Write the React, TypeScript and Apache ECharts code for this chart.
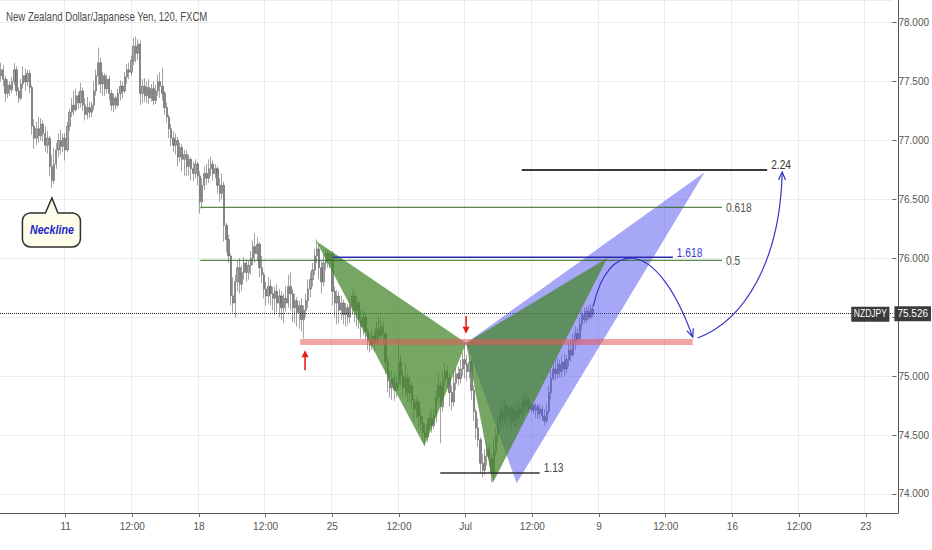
import React, { useEffect, useRef } from "react";
import * as echarts from "echarts";

const TITLE = "New Zealand Dollar/Japanese Yen, 120, FXCM";
const SYMBOL = "NZDJPY";
const LAST_PRICE = 75.526;

// 2h bars; slots on the time axis including the empty future space
const SLOT_COUNT = 404;

const tickIndex = [29, 59, 89, 119, 149, 179, 209, 239, 269, 299, 329, 359, 389];
const tickText = ["11", "12:00", "18", "12:00", "25", "12:00", "Jul", "12:00", "9", "12:00", "16", "12:00", "23"];

const PRICE_MIN = 74;
const PRICE_MAX = 78.1927;
const PRICE_STEP = 0.5;

// OHLC rows: [open, close, low, high]
const weekJun6 = [
  [77.55, 77.6, 77.5, 77.66], [77.6, 77.52, 77.46, 77.64], [77.52, 77.4, 77.33, 77.55], [77.4, 77.47, 77.36, 77.52],
  [77.47, 77.43, 77.38, 77.5], [77.43, 77.5, 77.4, 77.54], [77.5, 77.6, 77.47, 77.66], [77.6, 77.42, 77.38, 77.63],
  [77.42, 77.36, 77.32, 77.45], [77.36, 77.48, 77.34, 77.52], [77.48, 77.55, 77.44, 77.63], [77.55, 77.5, 77.42, 77.61],
  [77.5, 77.57, 77.46, 77.6], [77.57, 77.45, 77.4, 77.6], [77.45, 77.12, 77.05, 77.47], [77.12, 77.02, 76.93, 77.18],
  [77.02, 77.1, 76.96, 77.16], [77.1, 77.04, 76.98, 77.2], [77.04, 77.14, 77.0, 77.19], [77.14, 77.06, 76.99, 77.17],
  [77.06, 76.96, 76.9, 77.12], [76.96, 77.02, 76.89, 77.08], [77.02, 76.78, 76.7, 77.04], [76.78, 76.66, 76.6, 76.88],
  [76.66, 76.8, 76.63, 76.94], [76.8, 76.92, 76.76, 76.98], [76.92, 77.0, 76.86, 77.06], [77.0, 76.95, 76.88, 77.09],
  [76.95, 77.02, 76.9, 77.06],
];
const weekJun11 = [
  [77.02, 76.92, 76.83, 77.06], [76.92, 77.12, 76.9, 77.16], [77.12, 77.24, 77.08, 77.27], [77.24, 77.3, 77.2, 77.36],
  [77.3, 77.26, 77.21, 77.42], [77.26, 77.38, 77.24, 77.44], [77.38, 77.32, 77.27, 77.41], [77.32, 77.42, 77.28, 77.49],
  [77.42, 77.3, 77.25, 77.45], [77.3, 77.22, 77.17, 77.36], [77.22, 77.28, 77.18, 77.37], [77.28, 77.24, 77.19, 77.33],
  [77.24, 77.3, 77.2, 77.33], [77.3, 77.42, 77.26, 77.5], [77.42, 77.55, 77.38, 77.6], [77.55, 77.66, 77.47, 77.79],
  [77.66, 77.48, 77.4, 77.7], [77.48, 77.55, 77.38, 77.58], [77.55, 77.44, 77.38, 77.57], [77.44, 77.52, 77.4, 77.56],
  [77.52, 77.4, 77.34, 77.55], [77.4, 77.3, 77.25, 77.43], [77.3, 77.36, 77.24, 77.4], [77.36, 77.3, 77.26, 77.38],
  [77.3, 77.4, 77.28, 77.44], [77.4, 77.46, 77.34, 77.51], [77.46, 77.42, 77.36, 77.5], [77.42, 77.54, 77.4, 77.58],
  [77.54, 77.6, 77.48, 77.65], [77.6, 77.58, 77.52, 77.66], [77.58, 77.68, 77.55, 77.72], [77.68, 77.8, 77.64, 77.87],
  [77.8, 77.74, 77.66, 77.88], [77.74, 77.82, 77.68, 77.86], [77.82, 77.4, 77.3, 77.85], [77.4, 77.46, 77.32, 77.52],
  [77.46, 77.38, 77.33, 77.53], [77.38, 77.45, 77.32, 77.5], [77.45, 77.36, 77.31, 77.52], [77.36, 77.44, 77.33, 77.48],
  [77.44, 77.34, 77.3, 77.5], [77.34, 77.42, 77.31, 77.47], [77.42, 77.5, 77.38, 77.56], [77.5, 77.46, 77.36, 77.58],
  [77.46, 77.4, 77.34, 77.62], [77.4, 77.28, 77.22, 77.42], [77.28, 77.2, 77.15, 77.32], [77.2, 77.1, 77.02, 77.22],
  [77.1, 77.02, 76.95, 77.14], [77.02, 76.96, 76.9, 77.08], [76.96, 77.0, 76.88, 77.06], [77.0, 76.86, 76.78, 77.03],
  [76.86, 76.94, 76.82, 76.98], [76.94, 76.84, 76.74, 76.97], [76.84, 76.88, 76.7, 76.92], [76.88, 76.78, 76.7, 76.92],
  [76.78, 76.84, 76.7, 76.88], [76.84, 76.76, 76.66, 76.86], [76.76, 76.72, 76.66, 76.82], [76.72, 76.8, 76.68, 76.84],
];
const weekJun18 = [
  [76.8, 76.7, 76.62, 76.82], [76.7, 76.48, 76.38, 76.74], [76.48, 76.62, 76.42, 76.68], [76.62, 76.72, 76.58, 76.78],
  [76.72, 76.68, 76.62, 76.8], [76.68, 76.76, 76.64, 76.84], [76.76, 76.8, 76.7, 76.86], [76.8, 76.72, 76.66, 76.83],
  [76.72, 76.76, 76.68, 76.8], [76.76, 76.62, 76.55, 76.78], [76.62, 76.55, 76.48, 76.68], [76.55, 76.62, 76.5, 76.72],
  [76.62, 76.28, 76.14, 76.65], [76.28, 76.16, 76.05, 76.3], [76.16, 76.02, 75.96, 76.2], [76.02, 75.68, 75.6, 76.04],
  [75.68, 75.62, 75.54, 75.84], [75.62, 75.8, 75.5, 75.86], [75.8, 75.92, 75.72, 75.98], [75.92, 75.78, 75.7, 76.0],
  [75.78, 75.88, 75.72, 75.94], [75.88, 75.96, 75.82, 76.01], [75.96, 75.88, 75.8, 75.99], [75.88, 75.94, 75.82, 75.98],
  [75.94, 76.0, 75.86, 76.06], [76.0, 76.1, 75.94, 76.15], [76.1, 76.04, 75.96, 76.21], [76.04, 76.12, 75.98, 76.18],
  [76.12, 75.92, 75.84, 76.14], [75.92, 75.86, 75.79, 76.02], [75.86, 75.74, 75.66, 75.88], [75.74, 75.68, 75.6, 75.8],
  [75.68, 75.76, 75.62, 75.84], [75.76, 75.7, 75.6, 75.82], [75.7, 75.66, 75.56, 75.76], [75.66, 75.72, 75.52, 75.76],
  [75.72, 75.62, 75.54, 75.78], [75.62, 75.68, 75.5, 75.74], [75.68, 75.58, 75.48, 75.72], [75.58, 75.66, 75.45, 75.7],
  [75.66, 75.62, 75.55, 75.76], [75.62, 75.76, 75.58, 75.86], [75.76, 75.7, 75.56, 75.88], [75.7, 75.58, 75.46, 75.74],
  [75.58, 75.64, 75.45, 75.7], [75.64, 75.54, 75.42, 75.67], [75.54, 75.6, 75.4, 75.64], [75.6, 75.48, 75.38, 75.66],
  [75.48, 75.56, 75.32, 75.6], [75.56, 75.64, 75.5, 75.7], [75.64, 75.74, 75.58, 75.82], [75.74, 75.82, 75.67, 75.88],
  [75.82, 75.9, 75.76, 75.96], [75.9, 76.02, 75.86, 76.08], [76.02, 76.08, 75.96, 76.16], [76.08, 75.92, 75.82, 76.12],
  [75.92, 75.8, 75.7, 75.98], [75.8, 75.96, 75.76, 76.04], [75.96, 76.04, 75.9, 76.08], [76.04, 75.98, 75.92, 76.07],
];
const weekJun25 = [
  [75.98, 76.04, 75.92, 76.07], [76.04, 75.72, 75.6, 76.06], [75.72, 75.62, 75.5, 75.76], [75.62, 75.68, 75.44, 75.73],
  [75.68, 75.56, 75.45, 75.72], [75.56, 75.62, 75.48, 75.68], [75.62, 75.52, 75.44, 75.65], [75.52, 75.58, 75.42, 75.62],
  [75.58, 75.5, 75.43, 75.61], [75.5, 75.6, 75.45, 75.66], [75.6, 75.68, 75.52, 75.73], [75.68, 75.56, 75.46, 75.72],
  [75.56, 75.62, 75.42, 75.68], [75.62, 75.48, 75.4, 75.64], [75.48, 75.42, 75.32, 75.56], [75.42, 75.5, 75.35, 75.55],
  [75.5, 75.38, 75.31, 75.53], [75.38, 75.3, 75.22, 75.4], [75.3, 75.26, 75.2, 75.36], [75.26, 75.34, 75.22, 75.39],
  [75.34, 75.28, 75.21, 75.38], [75.28, 75.4, 75.26, 75.46], [75.4, 75.34, 75.28, 75.5], [75.34, 75.42, 75.3, 75.48],
  [75.42, 75.36, 75.28, 75.46], [75.36, 75.12, 75.02, 75.38], [75.12, 74.96, 74.86, 75.16], [74.96, 74.9, 74.82, 75.04],
  [74.9, 74.98, 74.8, 75.05], [74.98, 74.88, 74.79, 75.02], [74.88, 74.94, 74.82, 75.0], [74.94, 75.12, 74.9, 75.31],
  [75.12, 75.0, 74.92, 75.18], [75.0, 74.9, 74.84, 75.06], [74.9, 74.98, 74.82, 75.11], [74.98, 74.86, 74.78, 75.02],
  [74.86, 74.92, 74.77, 75.0], [74.92, 74.8, 74.74, 74.96], [74.8, 74.72, 74.62, 74.84], [74.72, 74.78, 74.64, 74.82],
  [74.78, 74.66, 74.56, 74.8], [74.66, 74.6, 74.54, 74.72], [74.6, 74.52, 74.45, 74.66], [74.52, 74.48, 74.41, 74.6],
  [74.48, 74.58, 74.44, 74.64], [74.58, 74.64, 74.54, 74.7], [74.64, 74.58, 74.52, 74.72], [74.58, 74.66, 74.55, 74.71],
  [74.66, 74.82, 74.6, 74.88], [74.82, 74.92, 74.76, 75.02], [74.92, 74.74, 74.43, 74.96], [74.74, 74.96, 74.7, 75.04],
  [74.96, 75.04, 74.92, 75.11], [75.04, 74.98, 74.9, 75.08], [74.98, 74.86, 74.74, 75.02], [74.86, 74.78, 74.71, 74.92],
  [74.78, 74.94, 74.74, 75.05], [74.94, 75.02, 74.88, 75.08], [75.02, 74.98, 74.92, 75.08], [74.98, 75.06, 74.94, 75.14],
];
const weekJul2 = [
  [75.06, 75.14, 75.0, 75.2], [75.14, 75.1, 74.98, 75.28], [75.1, 75.04, 74.96, 75.18], [75.04, 75.12, 74.98, 75.16],
  [75.12, 74.88, 74.8, 75.14], [74.88, 74.7, 74.62, 74.92], [74.7, 74.56, 74.46, 74.72], [74.56, 74.46, 74.4, 74.64],
  [74.46, 74.26, 74.18, 74.48], [74.26, 74.2, 74.14, 74.34], [74.2, 74.32, 74.16, 74.38], [74.32, 74.38, 74.24, 74.44],
  [74.38, 74.3, 74.23, 74.42], [74.3, 74.18, 74.1, 74.34], [74.18, 74.36, 74.12, 74.48], [74.36, 74.5, 74.32, 74.56],
  [74.5, 74.6, 74.44, 74.66], [74.6, 74.7, 74.54, 74.76], [74.7, 74.64, 74.56, 74.82], [74.64, 74.74, 74.58, 74.8],
  [74.74, 74.66, 74.56, 74.77], [74.66, 74.72, 74.55, 74.76], [74.72, 74.62, 74.54, 74.75], [74.62, 74.7, 74.58, 74.74],
  [74.7, 74.64, 74.56, 74.76], [74.64, 74.72, 74.58, 74.79], [74.72, 74.68, 74.6, 74.78], [74.68, 74.78, 74.64, 74.84],
  [74.78, 74.74, 74.69, 74.86], [74.74, 74.8, 74.7, 74.85], [74.8, 74.72, 74.69, 74.82], [74.72, 74.75, 74.69, 74.77],
  [74.75, 74.71, 74.68, 74.77], [74.71, 74.74, 74.65, 74.77], [74.74, 74.68, 74.64, 74.76], [74.68, 74.72, 74.64, 74.76],
  [74.72, 74.66, 74.62, 74.75], [74.66, 74.62, 74.58, 74.72], [74.62, 74.7, 74.6, 74.77], [74.7, 74.86, 74.68, 74.92],
  [74.86, 74.98, 74.8, 75.05], [74.98, 75.06, 74.96, 75.12], [75.06, 75.02, 74.97, 75.14], [75.02, 75.1, 74.98, 75.16],
  [75.1, 75.04, 74.99, 75.14], [75.04, 75.12, 74.99, 75.18], [75.12, 75.06, 75.0, 75.19], [75.06, 75.14, 75.02, 75.18],
  [75.14, 75.22, 75.08, 75.28], [75.22, 75.18, 75.12, 75.31], [75.18, 75.3, 75.16, 75.36], [75.3, 75.36, 75.22, 75.42],
  [75.36, 75.32, 75.26, 75.41], [75.32, 75.44, 75.3, 75.5], [75.44, 75.52, 75.39, 75.56], [75.52, 75.48, 75.45, 75.58],
  [75.48, 75.55, 75.45, 75.59], [75.55, 75.5, 75.48, 75.6], [75.5, 75.57, 75.48, 75.61], [75.57, 75.526, 75.5, 75.6],
];

// Harmonic pattern vertices: [bar index, price]
const greenXAB = [[142.6, 76.147], [191.6, 74.407], [210.5, 75.28]];
const greenBCD = [[210.5, 75.28], [222.6, 74.092], [274.4, 76.003]];
const blueXAD = [[210.5, 75.28], [233.4, 74.09], [318.5, 76.73]];

// Level lines
const levelNames = ["2.24", "0.618", "0.5", "1.618", "1.13"];
const levelPrices = [76.75, 76.433, 75.983, 76.009, 74.177];
const levelFrom = [235.7, 90.2, 90.2, 150.2, 198.8];
const levelTo = [346.8, 326.4, 326.4, 304.1, 243.8];

// Support zone
const supportPrice = 75.29;
const supportFrom = 135.4;
const supportTo = 313.1;

// Red arrows: [bar, price tail, price tip]
const upArrow = [137.6, 75.05, 75.22];
const downArrow = [210.5, 75.51, 75.36];

// Projection curves: start, control 1, control 2, end ([bar, price])
const projDown = [[268.1, 75.594], [274.8, 76.155], [296.4, 76.198], [313.1, 75.332]];
const projUp = [[315.3, 75.323], [336.9, 75.476], [352.7, 75.985], [353.6, 76.733]];

// Neckline callout anchor
const necklineText = "Neckline";
const necklinePoint = [23, 76.512];

const FONT = '"Liberation Sans", Arial, sans-serif';

function headPoints(tip: number[], from: number[], len: number, half: number) {
  const dx = tip[0] - from[0];
  const dy = tip[1] - from[1];
  const L = Math.hypot(dx, dy) || 1;
  const ux = dx / L;
  const uy = dy / L;
  const bx = tip[0] - ux * len;
  const by = tip[1] - uy * len;
  return [[bx - uy * half, by + ux * half], tip, [bx + uy * half, by - ux * half]];
}

function txt(text: string, x: number, y: number, fill: string, font: string, align: string, vAlign: string, scaleX = 1, extra: any = {}) {
  return {
    type: "text",
    x, y, scaleX,
    style: {
      text, x: 0, y: 0, fill, font,
      align, verticalAlign: vAlign, textAlign: align, textVerticalAlign: vAlign,
      ...extra,
    },
  };
}

function renderAnnotations(params: any, api: any) {
  const c = (d: number[]) => api.coord(d);
  const cs = params.coordSys;
  const ch: any[] = [];
  const poly = (pts: number[][], fill: string) =>
    ch.push({ type: "polygon", shape: { points: pts.map(c) }, style: { fill } });
  poly(blueXAD, "rgba(80,80,240,0.5)");
  poly(greenXAB, "rgba(70,135,45,0.74)");
  poly(greenBCD, "rgba(70,135,45,0.74)");

  const s0 = c([supportFrom, supportPrice]);
  const s1 = c([supportTo, supportPrice]);
  ch.push({ type: "line", shape: { x1: s0[0], y1: s0[1], x2: s1[0], y2: s1[1] }, style: { stroke: "rgba(230,90,90,0.55)", lineWidth: 6 } });

  const levelStroke = ["#3a3a3a", "#2f6a1f", "#2f6a1f", "#2d2db0", "#333333"];
  const levelWidth = [2, 1, 1, 1.5, 1.5];
  const labelColor = ["#333", "#555", "#555", "#3a3ad0", "#444"];
  levelNames.forEach((name, k) => {
    const a = c([levelFrom[k], levelPrices[k]]);
    const b = c([levelTo[k], levelPrices[k]]);
    ch.push({ type: "line", shape: { x1: a[0], y1: a[1], x2: b[0], y2: b[1] }, style: { stroke: levelStroke[k], lineWidth: levelWidth[k] } });
    const middle = name === "0.618" || name === "0.5";
    ch.push(txt(name, b[0] + 4, middle ? b[1] : b[1] + 1, labelColor[k], `12px ${FONT}`, "left", middle ? "middle" : "bottom", 0.85));
  });

  const redArrow = (spec: number[]) => {
    const tail = c([spec[0], spec[1]]);
    const tip = c([spec[0], spec[2]]);
    const dir = tip[1] < tail[1] ? 1 : -1;
    ch.push({ type: "line", shape: { x1: tail[0], y1: tail[1], x2: tip[0], y2: tip[1] + dir * 5 }, style: { stroke: "#e3201b", lineWidth: 1.6 } });
    ch.push({ type: "polygon", shape: { points: headPoints(tip, tail, 7, 3.5) }, style: { fill: "#e3201b" } });
  };
  redArrow(upArrow);
  redArrow(downArrow);

  const curve = (pts: number[][]) => {
    const p = pts.map(c);
    ch.push({
      type: "bezierCurve",
      shape: { x1: p[0][0], y1: p[0][1], cpx1: p[1][0], cpy1: p[1][1], cpx2: p[2][0], cpy2: p[2][1], x2: p[3][0], y2: p[3][1] },
      style: { stroke: "#3434c8", lineWidth: 1.2, fill: "none" },
    });
    ch.push({ type: "polyline", shape: { points: headPoints(p[3], p[2], 8, 3.5) }, style: { stroke: "#3434c8", lineWidth: 1.2, fill: "none" } });
  };
  curve(projDown);
  curve(projUp);

  // Neckline callout
  const tip = c(necklinePoint);
  const rx = tip[0] - 29.5;
  const ry = tip[1] + 15;
  ch.push({ type: "rect", shape: { x: rx, y: ry, width: 58, height: 34, r: 8 }, style: { fill: "#fdfde9", stroke: "#2e2e2e", lineWidth: 1.5 } });
  ch.push({ type: "polygon", shape: { points: [[tip[0] - 6.5, ry + 1.5], tip, [tip[0] + 6, ry + 1.5]] }, style: { fill: "#fdfde9" } });
  ch.push({ type: "polyline", shape: { points: [[tip[0] - 6.5, ry], tip, [tip[0] + 6, ry]] }, style: { stroke: "#2e2e2e", lineWidth: 1.5, fill: "none" } });
  ch.push(txt(necklineText, tip[0], ry + 17, "#1f1fc8", `italic bold 13px ${FONT}`, "center", "middle", 0.82));

  // symbol tag at the price line
  const lp = c([0, LAST_PRICE]);
  const right = cs.x + cs.width;
  ch.push(txt(SYMBOL, right - 3, lp[1], "#ffffff", `10px ${FONT}`, "right", "middle", 0.85, { backgroundColor: "#3b3b3b", padding: [3, 3, 2, 3] }));

  return { type: "group", children: ch };
}

export default function App() {
  const ref = useRef<HTMLDivElement>(null);
  useEffect(() => {
    if (!ref.current) return;
    const chart = echarts.init(ref.current, null, { renderer: "svg" });
    const candles = [...weekJun6, ...weekJun11, ...weekJun18, ...weekJun25, ...weekJul2];
    const slots = Array.from({ length: SLOT_COUNT }, (_, i) => String(i));
    const isTick = (index: number) => tickIndex.indexOf(index) >= 0;
    const axisFont = { fontFamily: FONT, fontSize: 10, color: "#555" };

    chart.setOption({
      animation: false,
      backgroundColor: "#ffffff",
      graphic: [
        {
          type: "text", x: 6, y: 10, scaleX: 0.74, z: 10,
          style: { text: TITLE, font: `13px ${FONT}`, fill: "#4a4a4a", verticalAlign: "top", textVerticalAlign: "top" },
        },
      ],
      grid: [
        { left: 0, right: 34, top: 0, bottom: 56.1 },
        { left: 0, right: 34, top: 0, bottom: 37 },
      ],
      xAxis: [
        { type: "category", gridIndex: 0, data: slots, show: false, axisLine: { onZero: false } },
        {
          type: "category", gridIndex: 1, data: slots,
          axisLine: { show: true, onZero: false, lineStyle: { color: "#555" } },
          axisTick: { show: true, alignWithLabel: true, interval: isTick, length: 4, lineStyle: { color: "#666" } },
          axisLabel: { interval: isTick, formatter: (v: string) => tickText[tickIndex.indexOf(Number(v))] ?? "", margin: 8, ...axisFont },
          splitLine: { show: true, interval: isTick, lineStyle: { color: "#ececec" } },
        },
        { type: "value", gridIndex: 0, min: -0.5, max: SLOT_COUNT - 0.5, show: false, axisLine: { onZero: false } },
      ],
      yAxis: [
        {
          type: "value", gridIndex: 0, position: "right", min: PRICE_MIN, max: PRICE_MAX, interval: PRICE_STEP,
          axisLine: { show: false, onZero: false },
          axisTick: { show: true, length: 4, lineStyle: { color: "#666" } },
          axisLabel: {
            formatter: (v: number) => (Math.abs(v - 75.5) < 1e-6 ? "" : v.toFixed(3)),
            showMinLabel: true, showMaxLabel: false, margin: 6, ...axisFont,
          },
          splitLine: { show: true, lineStyle: { color: "#ececec" } },
        },
        {
          type: "value", gridIndex: 1, position: "right", min: 0, max: 1,
          axisLine: { show: true, onZero: false, lineStyle: { color: "#555" } },
          axisTick: { show: false }, axisLabel: { show: false }, splitLine: { show: false },
        },
      ],
      series: [
        { type: "line", xAxisIndex: 1, yAxisIndex: 1, data: [], silent: true },
        {
          type: "candlestick", xAxisIndex: 0, yAxisIndex: 0, data: candles, barWidth: 1.8,
          itemStyle: { color: "#a6a6a6", color0: "#868686", borderColor: "#484848", borderColor0: "#484848", borderWidth: 0.5 },
          markLine: {
            silent: true, symbol: ["none", "none"], animation: false,
            data: [{ yAxis: LAST_PRICE }],
            lineStyle: { type: "dotted", color: "#222", width: 1 },
            label: {
              position: "end", distance: 2, formatter: () => LAST_PRICE.toFixed(3),
              color: "#fff", backgroundColor: "#3b3b3b", padding: [3, 3, 2, 3], fontFamily: FONT, fontSize: 10,
            },
          },
        },
        {
          type: "custom", xAxisIndex: 2, yAxisIndex: 0, data: [[0, LAST_PRICE]],
          renderItem: renderAnnotations, silent: true, z: 5,
        },
      ],
    });
    return () => chart.dispose();
  }, []);
  return (
    <div
      ref={ref}
      style={{ position: "fixed", left: 0, top: 0, width: 932, height: 550, background: "#fff" }}
    />
  );
}
